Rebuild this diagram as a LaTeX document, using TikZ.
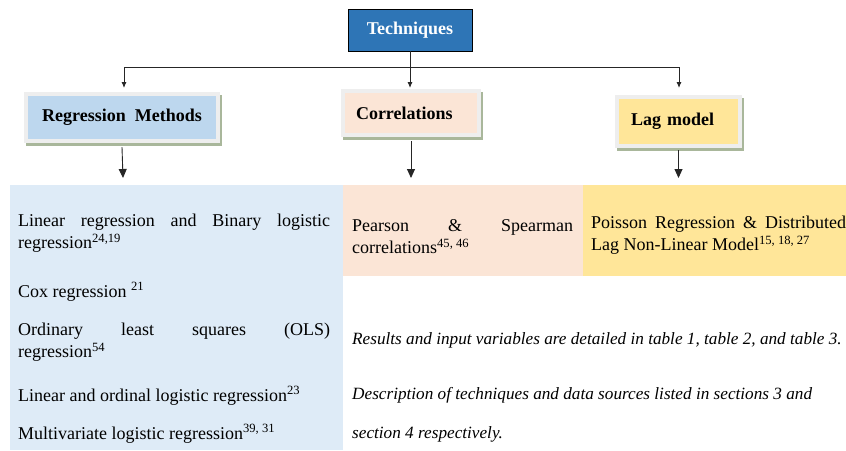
\documentclass[tikz,border=0pt]{standalone}
\usepackage{fontspec}
\setmainfont{Liberation Serif}
\usepackage{xcolor}
\usetikzlibrary{arrows.meta,positioning}

\definecolor{techblue}{HTML}{2E75B6}
\definecolor{regblue}{HTML}{BDD7EE}
\definecolor{panelblue}{HTML}{DEEBF7}
\definecolor{corrpink}{HTML}{FBE5D6}
\definecolor{lagyellow}{HTML}{FFE699}
\definecolor{framegray}{HTML}{EEEEEE}
\definecolor{shadowgreen}{HTML}{A9B79B}

\tikzset{
  head/.style = {fill=#1, inner sep=0pt, font=\fontsize{18}{22}\selectfont\bfseries,
    preaction={draw=shadowgreen, fill=shadowgreen, line width=8pt,
      transform canvas={shift={(1.5pt,-3pt)}}},
    preaction={draw=framegray, line width=8pt}},
  panel/.style = {fill=#1, inner sep=0pt, anchor=north west},
  item/.style = {anchor=base west, inner sep=0pt, align=justify,
    font=\fontsize{18}{22.5}\selectfont},
  note/.style = {anchor=base west, inner sep=0pt, font=\fontsize{17.2}{20}\selectfont\itshape},
  link/.style = {line width=0.9pt, black!85, -{Latex[length=6pt,width=5pt]}},
  drop/.style = {line width=0.9pt, black!85, -{Triangle[length=9pt,width=8pt]}}
}

\begin{document}
\begin{tikzpicture}[x=1pt,y=-1pt]
\useasboundingbox (0,0) rectangle (846,450);

% top of the tree
\node[draw=black, line width=0.8pt, fill=techblue, text=white, minimum width=124pt,
  minimum height=42pt, font=\fontsize{18}{22}\selectfont\bfseries] (tech) at (410,30) {Techniques};

\node[head=regblue, minimum width=188pt, minimum height=43pt] (regr) at (122,117.5) {Regression\ \ Methods};
\node[head=corrpink, minimum height=40pt, inner xsep=11pt, text width=110pt, align=left] (corr) at (411,113) {Correlations};
\node[head=lagyellow, minimum height=45pt, inner xsep=12pt, text width=95pt, align=left] (lag) at (678.5,121.5) {Lag model};

\coordinate (busL) at (124,67);
\coordinate (busR) at (679,67);
\coordinate (tiprow) at (0,88);
\coordinate (downrow) at (0,178);

\draw[line width=0.9pt, black!85] (busL) -- (busR);
\draw[link] (tech.south) -- (tech.south |- tiprow);
\draw[link] (busL) -- (busL |- tiprow);
\draw[link] (busR) -- (busR |- tiprow);

% panels below
\node[panel=panelblue, minimum width=333pt, minimum height=265pt] (regpanel) at (10,185) {};
\node[panel=corrpink, minimum width=240pt, minimum height=91pt] (corrpanel) at (343,185) {};
\node[panel=lagyellow, minimum width=263pt, minimum height=91pt] (lagpanel) at (583,185) {};

\draw[drop] ([yshift=-8pt]regr.south) -- ([xshift=1pt]regr.south |- downrow);
\draw[drop] ([yshift=-8pt]corr.south) -- (corr.south |- downrow);
\draw[drop] ([yshift=-6pt]lag.south) -- (lag.south |- downrow);

% regression methods
\node[item, text width=312pt] (lin) at (18,226) {Linear regression and Binary logistic\linebreak regression\textsuperscript{24,19}};
\node[item, text width=312pt] (cox) at (18,297) {Cox regression \textsuperscript{21}};
\node[item, text width=312pt] (ols) at (18,335) {Ordinary least squares (OLS)\linebreak regression\textsuperscript{54}};
\node[item, text width=312pt] (ord) at (18,401) {Linear and ordinal logistic regression\textsuperscript{23}};
\node[item, text width=312pt] (mult) at (18,439) {Multivariate logistic regression\textsuperscript{39, 31}};

% correlations and lag model
\node[item, text width=221pt] (pear) at (352,231) {Pearson \& Spearman\linebreak correlations\textsuperscript{45, 46}};
\node[item, text width=255pt] (pois) at (591,228) {Poisson Regression \& Distributed\linebreak Lag Non-Linear Model\textsuperscript{15, 18, 27}};

% notes
\node[note] (res) at (352,344) {Results and input variables are detailed in table 1, table 2, and table 3.};
\node[note] (desc) at (352,399) {Description of techniques and data sources listed in sections 3 and};
\node[note] (sect) at (352,438) {section 4 respectively.};

\end{tikzpicture}
\end{document}
